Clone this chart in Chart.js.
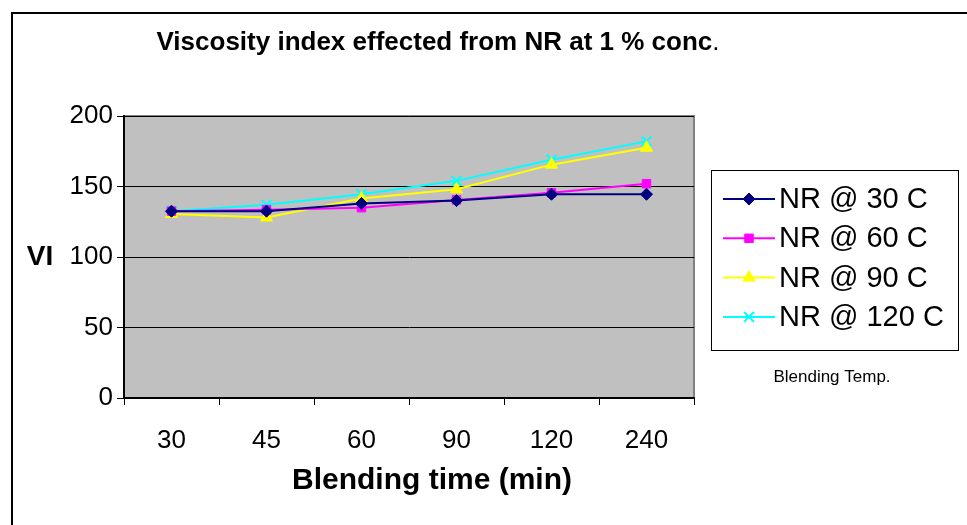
<!DOCTYPE html>
<html>
<head>
<meta charset="utf-8">
<script src="https://cdn.jsdelivr.net/npm/chart.js@4.4.1/dist/chart.umd.min.js"></script>
<style>
  html, body { margin: 0; padding: 0; background: #fff; }
  #wrap { width: 967px; height: 525px; position: relative; }
</style>
</head>
<body>
<div id="wrap"><canvas id="chartJSContainer" width="967" height="525"></canvas></div>
<script>
var times = ['30', '45', '60', '90', '120', '240'];
var nr30 = [132.5, 132.5, 138, 140, 144.5, 144.5];
var nr60 = [132.5, 133.5, 135, 140.5, 145.5, 152];
var nr90 = [130.5, 128, 141.5, 148, 165.5, 177.5];
var nr120 = [132.5, 137, 144.5, 154, 169, 182];
var seriesNames = ['NR @ 30 C', 'NR @ 60 C', 'NR @ 90 C', 'NR @ 120 C'];
var colours = ['#000080', '#ff00ff', '#ffff00', '#00ffff'];
var markers = ['rectRot', 'rect', 'triangle', 'crossRot'];
var yTicks = [0, 50, 100, 150, 200];

var font = 'Liberation Sans, Arial, sans-serif';

function makeSet(i, values) {
  return {
    label: seriesNames[i],
    data: values,
    borderColor: colours[i],
    backgroundColor: colours[i],
    pointBorderColor: colours[i],
    pointBackgroundColor: colours[i],
    pointStyle: markers[i],
    pointRadius: i == 3 ? 7 : (i == 2 ? 7 : 6),
    pointBorderWidth: i == 3 ? 2 : 1,
    borderWidth: 2,
    tension: 0
  };
}

// grey plot area, outer frame, titles and the boxed legend
const framePlugin = {
  id: 'frame',
  beforeDraw: (chart) => {
    const c = chart.ctx;
    const a = chart.chartArea;
    c.save();
    c.fillStyle = '#c0c0c0';
    c.fillRect(a.left, a.top, a.right - a.left, a.bottom - a.top);
    c.strokeStyle = '#808080';
    c.lineWidth = 2;
    c.beginPath();
    c.moveTo(a.left, a.top);
    c.lineTo(a.right, a.top);
    c.lineTo(a.right, a.bottom);
    c.stroke();
    c.restore();
  },
  afterDatasetsDraw: (chart) => {
    const c = chart.ctx;
    c.save();
    c.fillStyle = '#000';
    c.textBaseline = 'middle';
    // y title, horizontal
    c.font = 'bold 28px ' + font;
    c.textAlign = 'center';
    c.fillText('VI', 40, chart.scales.y.getPixelForValue(100));
    // x title
    c.font = 'bold 30px ' + font;
    c.fillText('Blending time (min)', 432, 481);
    // chart title, the full stop is not bold
    var bold = 'Viscosity index effected from NR at 1 % conc';
    c.font = 'bold 26px ' + font;
    var w1 = c.measureText(bold).width;
    c.font = '26px ' + font;
    var w2 = c.measureText('.').width;
    var x0 = 438 - (w1 + w2) / 2;
    c.textAlign = 'left';
    c.font = 'bold 26px ' + font;
    c.fillText(bold, x0, 43);
    c.font = '26px ' + font;
    c.fillText('.', x0 + w1, 43);
    c.restore();
  },
  afterDraw: (chart) => {
    const c = chart.ctx;
    c.save();
    // outer frame (top and left visible)
    c.strokeStyle = '#000';
    c.lineWidth = 2;
    c.strokeRect(12, 13, 2000, 2000);

    // legend box
    c.lineWidth = 1;
    c.strokeStyle = '#000';
    c.strokeRect(711.5, 170.5, 247, 180);
    c.font = '29px ' + font;
    c.textBaseline = 'middle';
    chart.data.datasets.forEach((ds, i) => {
      var y = 199 + i * 39.3;
      c.strokeStyle = ds.borderColor;
      c.lineWidth = 2;
      c.beginPath();
      c.moveTo(723, y);
      c.lineTo(775, y);
      c.stroke();
      c.fillStyle = ds.pointBackgroundColor;
      c.strokeStyle = ds.pointBorderColor;
      c.lineWidth = ds.pointBorderWidth;
      Chart.helpers.drawPoint(c, {
        pointStyle: ds.pointStyle,
        radius: ds.pointRadius,
        borderWidth: ds.pointBorderWidth,
        rotation: 0
      }, 749, y);
      c.fillStyle = '#000';
      c.textAlign = 'left';
      c.fillText(ds.label, 779, y + 1);
    });
    c.font = '17px ' + font;
    c.textAlign = 'center';
    c.fillText('Blending Temp.', 832, 377);
    c.restore();
  }
};

const options = {
  type: 'line',
  data: {
    labels: times,
    datasets: [makeSet(0, nr30), makeSet(1, nr60), makeSet(2, nr90), makeSet(3, nr120)]
  },
  options: {
    responsive: false,
    animation: false,
    layout: { padding: { left: 22, right: 273, top: 116, bottom: 0 } },
    plugins: {
      legend: { display: false },
      tooltip: { enabled: false },
      title: { display: false }
    },
    scales: {
      x: {
        offset: true,
        afterFit: (scale) => { scale.height = 127; },
        grid: {
          offset: true,
          drawOnChartArea: false,
          drawTicks: true,
          tickLength: 7,
          color: '#000'
        },
        border: { color: '#000', width: 2 },
        ticks: {
          color: '#000',
          padding: 20,
          font: { family: font, size: 26 }
        }
      },
      y: {
        min: 0,
        max: 200,
        afterFit: (scale) => { scale.width = 102; },
        afterBuildTicks: (scale) => {
          scale.ticks = yTicks.map(v => ({ value: v }));
        },
        grid: {
          color: '#000',
          lineWidth: 1,
          tickLength: 7,
          drawTicks: true
        },
        border: { color: '#000', width: 2 },
        ticks: {
          color: '#000',
          padding: 4,
          font: { family: font, size: 26 }
        }
      }
    }
  },
  plugins: [framePlugin]
};

const ctx = document.getElementById('chartJSContainer').getContext('2d');
const chart = new Chart(ctx, options);
</script>
</body>
</html>
